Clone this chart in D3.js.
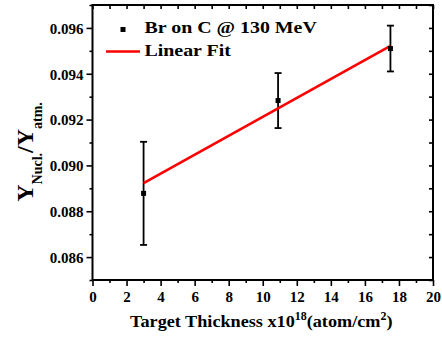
<!DOCTYPE html>
<html>
<head>
<meta charset="utf-8">
<script src="https://cdn.jsdelivr.net/npm/d3@7"></script>
<style>
  body { margin: 0; background: #fff; }
  svg { display: block; }
  svg text { font-family: "Liberation Serif", "Times New Roman", serif !important; font-weight: bold; }
</style>
</head>
<body>
<svg id="chart" width="442" height="338"></svg>
<script>
// measured data
const thickness = [3, 10.9, 17.5];
const ratio = [0.08878, 0.09283, 0.09510];
const ratioErr = [0.00225, 0.0012, 0.001];
const fitX = [3, 17.5];
const fitY = [0.08923, 0.09522];
const xTicks = [0, 2, 4, 6, 8, 10, 12, 14, 16, 18, 20];
const yTicks = [0.086, 0.088, 0.090, 0.092, 0.094, 0.096];
const legendLabels = ["Br on C @ 130 MeV", "Linear Fit"];

const svg = d3.select("#chart");
const margin = { left: 92.5, right: 9, top: 5, bottom: 58 };
const W = 442, H = 338;
const serif = "Liberation Serif, Times New Roman, serif";

const x = d3.scaleLinear().domain([0, 20]).range([margin.left, W - margin.right]);
const y = d3.scaleLinear().domain([0.085, 0.097]).range([H - margin.bottom, margin.top]);

const minorX = d3.range(0, 21, 1);
const minorY = d3.range(0.085, 0.0971, 0.001);
const isMajorY = d => yTicks.some(t => Math.abs(t - d) < 1e-6);

const axesG = svg.append("g");

// bottom axis
const bottom = axesG.append("g").attr("transform", `translate(0,${y.range()[0]})`);
bottom.call(d3.axisBottom(x).tickValues(minorX).tickSize(3).tickFormat(""));
bottom.selectAll(".tick").filter(d => xTicks.includes(d)).select("line").attr("y2", 6);
bottom.selectAll(".tick").filter(d => xTicks.includes(d)).select("text")
  .attr("y", 11).attr("dy", "0.71em").attr("font-size", 15).attr("font-family", serif)
  .text(d => d);

// left axis
const left = axesG.append("g").attr("transform", `translate(${x.range()[0]},0)`);
left.call(d3.axisLeft(y).tickValues(minorY).tickSize(3).tickFormat(""));
left.selectAll(".tick").filter(isMajorY).select("line").attr("x2", -6);
left.selectAll(".tick").filter(isMajorY).select("text")
  .attr("x", -9).attr("dy", "0.35em").attr("font-size", 15).attr("font-family", serif)
  .text(d => d3.format(".3f")(d));

// top and right mirror axes, ticks inward
axesG.append("g").attr("transform", `translate(0,${y.range()[1]})`)
  .call(d3.axisBottom(x).tickValues(minorX).tickSize(4).tickFormat(""));
axesG.append("g").attr("transform", `translate(${x.range()[1]},0)`)
  .call(d3.axisLeft(y).tickValues(minorY).tickSize(4).tickFormat(""));

axesG.selectAll("g").attr("font-family", serif).attr("font-size", null);
axesG.selectAll(".domain").remove();
axesG.selectAll(".tick line").attr("stroke", "#000").attr("stroke-width", 1.6);
axesG.selectAll(".tick text").attr("fill", "#000");

svg.append("rect")
  .attr("x", x.range()[0]).attr("y", y.range()[1])
  .attr("width", x.range()[1] - x.range()[0])
  .attr("height", y.range()[0] - y.range()[1])
  .attr("fill", "none").attr("stroke", "#000").attr("stroke-width", 2);

// error bars
const pts = thickness.map((t, i) => ({ x: t, y: ratio[i], e: ratioErr[i] }));
const eb = svg.append("g").attr("stroke", "#000").attr("stroke-width", 1.8);
eb.selectAll("line.v").data(pts).join("line")
  .attr("x1", d => x(d.x)).attr("x2", d => x(d.x))
  .attr("y1", d => y(d.y - d.e)).attr("y2", d => y(d.y + d.e));
eb.selectAll("line.t").data(pts.flatMap(d => [d.y - d.e, d.y + d.e].map(v => ({ x: d.x, v }))))
  .join("line")
  .attr("x1", d => x(d.x) - 3.5).attr("x2", d => x(d.x) + 3.5)
  .attr("y1", d => y(d.v)).attr("y2", d => y(d.v));

// fit line
svg.append("line")
  .attr("x1", x(fitX[0])).attr("y1", y(fitY[0]))
  .attr("x2", x(fitX[1])).attr("y2", y(fitY[1]))
  .attr("stroke", "#ff0000").attr("stroke-width", 2.6);

// markers
svg.append("g").selectAll("rect").data(pts).join("rect")
  .attr("x", d => x(d.x) - 2.5).attr("y", d => y(d.y) - 2.5)
  .attr("width", 5).attr("height", 5).attr("fill", "#000");

// legend (text in the original is a little stretched horizontally)
const lg = svg.append("g");
lg.append("rect").attr("x", 120.5).attr("y", 27).attr("width", 5).attr("height", 5).attr("fill", "#000");
lg.append("text").attr("transform", "translate(144.5,33) scale(1.17,1)")
  .attr("font-size", 17).text(legendLabels[0]);
lg.append("line").attr("x1", 106).attr("x2", 140).attr("y1", 51.5).attr("y2", 51.5)
  .attr("stroke", "#ff0000").attr("stroke-width", 2.6);
lg.append("text").attr("transform", "translate(144.5,56) scale(1.17,1)")
  .attr("font-size", 17).text(legendLabels[1]);

// x title
const xt = svg.append("text").attr("transform", "translate(130,327) scale(1.04,1)").attr("font-size", 17.5);
xt.append("tspan").text("Target Thickness x10");
xt.append("tspan").attr("font-size", 11.5).attr("dy", -7).text("18");
xt.append("tspan").attr("dy", 7).text("(atom/cm");
xt.append("tspan").attr("font-size", 11.5).attr("dy", -7).text("2");
xt.append("tspan").attr("dy", 7).text(")");

// y title
const yt = svg.append("text")
  .attr("transform", "translate(33,152) rotate(-90)")
  .attr("text-anchor", "middle").attr("font-size", 24);
yt.append("tspan").text("Y");
yt.append("tspan").attr("font-size", 14).attr("dy", 9).text("Nucl.");
yt.append("tspan").attr("dy", -9).text("/Y");
yt.append("tspan").attr("font-size", 14).attr("dy", 9).text("atm.");
</script>
</body>
</html>
